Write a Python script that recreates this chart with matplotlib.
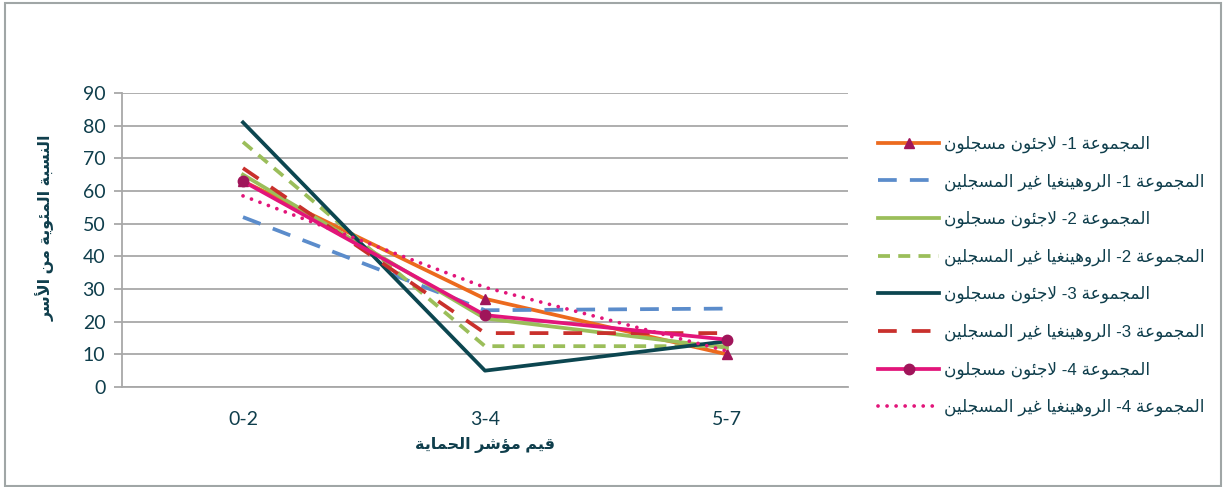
import re
import matplotlib
matplotlib.use('Agg')
import matplotlib.pyplot as plt
from matplotlib.patches import Rectangle

# --- data -------------------------------------------------------------
categories = ['0-2', '3-4', '5-7']

g1_registered = [63, 27, 10]
g1_rohingya = [52, 23.5, 24]
g2_registered = [65, 21, 12]
g2_rohingya = [75, 12.5, 12.5]
g3_registered = [81, 5, 14]
g3_rohingya = [67, 16.5, 16.5]
g4_registered = [63, 22, 14.5]
g4_rohingya = [58.5, 30.5, 11]

labels = [
    'المجموعة 1- لاجئون مسجلون',
    'المجموعة 1- الروهينغيا غير المسجلين',
    'المجموعة 2- لاجئون مسجلون',
    'المجموعة 2- الروهينغيا غير المسجلين',
    'المجموعة 3- لاجئون مسجلون',
    'المجموعة 3- الروهينغيا غير المسجلين',
    'المجموعة 4- لاجئون مسجلون',
    'المجموعة 4- الروهينغيا غير المسجلين',
]
x_title = 'قيم مؤشر الحماية'
y_title = 'النسبة المئوية من الأسر'

# --- minimal arabic shaping (matplotlib has no bidi / joining) ---------
FORMS = {
    'ا': (0xFE8D, False), 'أ': (0xFE83, False), 'ب': (0xFE8F, True),
    'ة': (0xFE93, False), 'ت': (0xFE95, True), 'ج': (0xFE9D, True),
    'ح': (0xFEA1, True), 'ر': (0xFEAD, False), 'س': (0xFEB1, True),
    'ش': (0xFEB5, True), 'ع': (0xFEC9, True), 'غ': (0xFECD, True),
    'ق': (0xFED5, True), 'ل': (0xFEDD, True), 'م': (0xFEE1, True),
    'ن': (0xFEE5, True), 'ه': (0xFEE9, True), 'و': (0xFEED, False),
    'ي': (0xFEF1, True), 'ئ': (0xFE89, True), 'ؤ': (0xFE85, False),
}
LAM_ALEF = {'ا': 0xFEFB, 'أ': 0xFEF7}


def shape(text):
    out = []
    i = 0
    n = len(text)
    while i < n:
        c = text[i]
        if c not in FORMS:
            out.append(c)
            i += 1
            continue
        prev = text[i - 1] if i > 0 else ''
        joins_prev = prev in FORMS and FORMS[prev][1]
        if c == 'ل' and i + 1 < n and text[i + 1] in LAM_ALEF:
            out.append(chr(LAM_ALEF[text[i + 1]] + (1 if joins_prev else 0)))
            i += 2
            continue
        nxt = text[i + 1] if i + 1 < n else ''
        base, dual = FORMS[c]
        joins_next = dual and nxt in FORMS
        if joins_prev and joins_next:
            off = 3
        elif joins_prev:
            off = 1
        elif joins_next:
            off = 2
        else:
            off = 0
        out.append(chr(base + off))
        i += 1
    vis = ''.join(out)[::-1]
    # keep number runs left-to-right
    return re.sub(r'[0-9]+', lambda m: m.group(0)[::-1], vis)


# --- style ------------------------------------------------------------
TEXT = '#0F3E4C'
GRID = '#A8A8A8'
MARK = '#A0155A'
plt.rcParams['font.family'] = ['Liberation Sans', 'DejaVu Sans']

fig = plt.figure(figsize=(12.24, 4.87), dpi=100)
fig.patches.append(Rectangle((5 / 1224, 1 / 487), 1216 / 1224, 483 / 487,
                             transform=fig.transFigure, fill=False,
                             edgecolor='#A0A6A6', lw=1.5))
ax = fig.add_axes([122 / 1224, 1 - 387 / 487, 726 / 1224, 294 / 487])

x = range(len(categories))
series = [
    (g1_registered, dict(color='#EC6A1E', ls='-', marker='^', ms=7.5,
                         mfc=MARK, mec=MARK)),
    (g1_rohingya, dict(color='#5B8CCB', dashes=(5, 3.5))),
    (g2_registered, dict(color='#9BBE5A', ls='-')),
    (g2_rohingya, dict(color='#9BBE5A', dashes=(3.2, 2.2))),
    (g3_registered, dict(color='#0C4650', ls='-')),
    (g3_rohingya, dict(color='#C9302C', dashes=(5, 4))),
    (g4_registered, dict(color='#E2157A', ls='-', marker='o', ms=7.5,
                         mfc=MARK, mec=MARK)),
    (g4_rohingya, dict(color='#E2157A', ls=(0, (0.01, 2.4)),
                       dash_capstyle='round')),
]
handles = []
for (vals, st), lab in zip(series, labels):
    ln, = ax.plot(x, vals, lw=2.7, label=shape(lab), **st)
    handles.append(ln)

ax.set_xlim(-0.5, 2.5)
ax.set_ylim(0, 90)
ax.set_yticks(range(0, 91, 10))
ax.set_xticks(list(x))
ax.set_xticklabels(categories)
ax.yaxis.grid(True, color=GRID, lw=1.3)
ax.set_axisbelow(True)
for s in ('top', 'right'):
    ax.spines[s].set_visible(False)
for s in ('left', 'bottom'):
    ax.spines[s].set_color(GRID)
    ax.spines[s].set_linewidth(1.3)
ax.tick_params(axis='y', direction='out', length=6, width=1.3, color=GRID,
               labelsize=14, labelcolor=TEXT, pad=6)
ax.tick_params(axis='x', length=0, labelsize=14, labelcolor=TEXT, pad=17)
for t in ax.get_xticklabels() + ax.get_yticklabels():
    t.set_family(['Lato', 'DejaVu Sans'])

fig.text(485 / 1224, 1 - 445 / 487, shape(x_title), ha='center', va='center',
         fontsize=11.5, fontweight='bold', color=TEXT)
fig.text(45 / 1224, 1 - 228 / 487, shape(y_title), ha='center', va='center',
         rotation=90, fontsize=11.5, fontweight='bold', color=TEXT)

fig.legend(handles=handles, loc='center left',
           bbox_to_anchor=(878 / 1224, 1 - 276 / 487), frameon=False,
           fontsize=12.2, labelcolor=TEXT, handlelength=3.6,
           handletextpad=0.3, labelspacing=1.2, borderpad=0,
           borderaxespad=0, numpoints=1)

fig.savefig('out.png', dpi=100)
